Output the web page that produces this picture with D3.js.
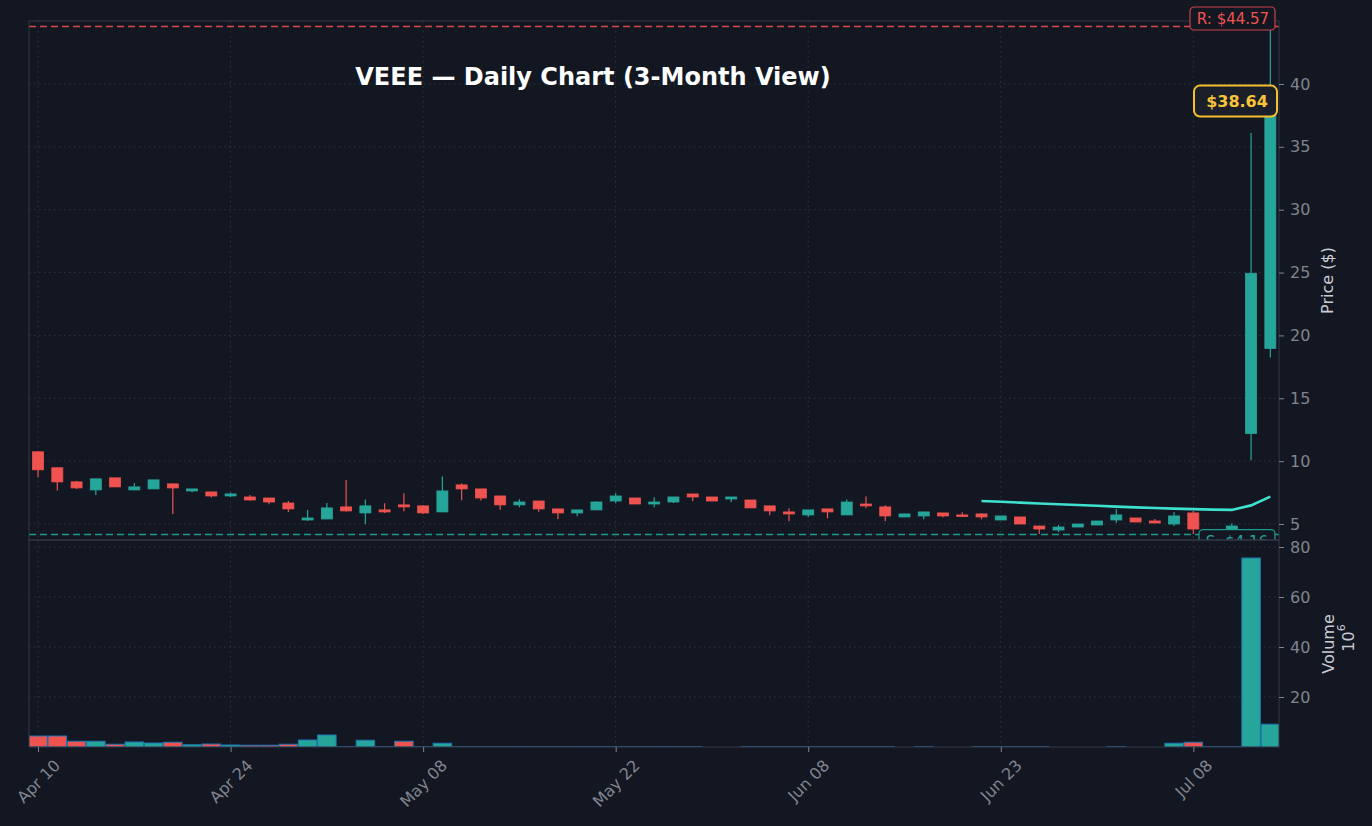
<!DOCTYPE html>
<html>
<head>
<meta charset="utf-8">
<script src="https://cdn.jsdelivr.net/npm/d3@7"></script>
<style>
  html, body { margin: 0; padding: 0; background: #131722; }
  svg { display: block; font-family: "DejaVu Sans", sans-serif; }
</style>
</head>
<body>
<div id="chart"></div>
<script>
// ---- data ----
const dates = ["Apr 10","Apr 11","Apr 14","Apr 15","Apr 16","Apr 17","Apr 18","Apr 21","Apr 22","Apr 23",
  "Apr 24","Apr 25","Apr 28","Apr 29","Apr 30","May 01","May 02","May 05","May 06","May 07",
  "May 08","May 09","May 12","May 13","May 14","May 15","May 16","May 19","May 20","May 21",
  "May 22","May 23","May 27","May 28","May 29","May 30","Jun 02","Jun 03","Jun 04","Jun 05",
  "Jun 08","Jun 09","Jun 10","Jun 11","Jun 12","Jun 13","Jun 16","Jun 17","Jun 18","Jun 20",
  "Jun 23","Jun 24","Jun 25","Jun 26","Jun 27","Jun 30","Jul 01","Jul 02","Jul 03","Jul 07",
  "Jul 08","Jul 09","Jul 10","Jul 11","Jul 14"];
const open  = [10.74,9.47,8.35,7.71,8.67,7.71,7.79,8.19,7.63,7.55, 7.23,7.15,7.07,6.67,5.32,5.40,6.36,5.88,6.12,6.52,
  6.44,5.96,8.11,7.79,7.23,6.52,6.83,6.20,5.88,6.12, 6.83,7.07,6.59,6.75,7.39,7.15,6.99,6.91,6.44,5.96,
  5.72,6.20,5.72,6.59,6.36,5.56,5.64,5.88,5.72,5.80, 5.32,5.56,4.84,4.52,4.76,4.92,5.32,5.48,5.24,5.00,
  5.88,4.30,4.52,12.20,18.96];
const high  = [10.80,9.50,8.43,8.62,8.67,8.27,8.51,8.22,7.79,7.55, 7.50,7.31,7.07,6.83,6.12,6.67,8.49,6.94,6.65,7.45,
  6.50,8.77,8.24,7.79,7.23,6.97,6.83,6.20,6.12,6.80, 7.47,7.07,7.13,7.15,7.39,7.15,7.15,6.91,6.44,6.25,
  6.12,6.20,6.94,7.18,6.49,5.80,5.96,5.88,5.93,5.85, 5.64,5.56,4.84,4.92,5.00,5.24,6.20,5.48,5.40,5.96,
  6.04,4.60,5.05,36.10,44.57];
const low   = [8.72,7.66,7.79,7.31,7.95,7.71,7.79,5.80,7.53,7.10, 7.15,6.86,6.57,5.96,5.24,5.40,6.00,4.98,5.88,6.01,
  5.80,5.96,6.89,6.86,6.14,6.33,5.98,5.37,5.61,6.12, 6.65,6.59,6.33,6.67,6.81,6.83,6.73,6.28,5.69,5.21,
  5.56,5.45,5.72,6.25,5.21,5.56,5.37,5.53,5.58,5.37, 5.32,5.00,4.20,4.36,4.76,4.92,5.08,5.16,5.08,4.84,
  4.20,4.16,4.40,10.08,18.24];
const close = [9.31,8.35,7.87,8.59,7.95,7.95,8.51,7.87,7.79,7.23, 7.39,6.91,6.75,6.20,5.48,6.28,6.04,6.44,5.96,6.36,
  5.88,7.63,7.79,7.07,6.52,6.75,6.20,5.88,6.12,6.75, 7.23,6.59,6.75,7.15,7.15,6.83,7.15,6.28,6.04,5.80,
  6.12,5.96,6.75,6.44,5.64,5.80,5.96,5.64,5.64,5.56, 5.64,5.00,4.60,4.76,5.00,5.24,5.72,5.16,5.08,5.64,
  4.60,4.50,4.84,24.94,38.64];
// volume in millions
const volume = [4.4,4.4,2.3,2.3,1.1,2.0,1.6,1.9,0.9,1.2, 0.8,0.7,0.7,1.1,2.8,4.8,0.1,2.7,0.1,2.3,
  0.1,1.5,0.1,0.1,0.1,0.1,0.1,0.1,0.1,0.1, 0.1,0.1,0.1,0.1,0.1,0,0,0.1,0.1,0.1,
  0.1,0.1,0.1,0.1,0.1,0,0.1,0,0,0.1, 0.1,0.1,0.1,0,0,0,0.1,0,0,1.5,
  1.9,0.1,0.1,75.6,9.1];
// 50-day moving average (starts at index 49)
const sma = [6.83,6.77,6.70,6.63,6.57,6.51,6.45,6.38,6.32,6.27,6.22,6.18,6.14,6.12,6.48,7.18];
const smaStart = 49;

const resistance = 44.57;
const support = 4.16;
const lastPrice = 38.64;
const priceTicks = [5,10,15,20,25,30,35,40];
const volumeTicks = [20,40,60,80];
const dateTickIdx = [0,10,20,30,40,50,60];

// ---- layout ----
const W = 1372, H = 826;
const left = 29, right = 1279;
const priceTop = 21, priceBottom = 540, volBottom = 747;
const upColor = "#26a69a", downColor = "#ef5350";
const gridColor = "#2f3441", frameColor = "#343946", tickColor = "#80848e";

const svg = d3.select("#chart").append("svg")
  .attr("width", W).attr("height", H);

svg.append("rect").attr("width", W).attr("height", H).attr("fill", "#131722");

var x = d3.scaleLinear().domain([-0.47, 64.45]).range([left, right]);
var yPrice = d3.scaleLinear().domain([3.727, 45.01]).range([priceBottom, priceTop]);
var yVol = d3.scaleLinear().domain([0, 82.8]).range([volBottom, priceBottom]);
const step = x(1) - x(0);

const defs = svg.append("defs");
defs.append("clipPath").attr("id", "clipPrice").append("rect")
  .attr("x", left).attr("y", priceTop).attr("width", right - left).attr("height", priceBottom - priceTop);
defs.append("clipPath").attr("id", "clipVol").append("rect")
  .attr("x", left).attr("y", priceBottom).attr("width", right - left).attr("height", volBottom - priceBottom);

// grids
const grid = svg.append("g").attr("class", "grid");
grid.selectAll(".hp").data(priceTicks).enter().append("line")
  .attr("x1", left).attr("x2", right)
  .attr("y1", d => yPrice(d)).attr("y2", d => yPrice(d));
grid.selectAll(".hv").data(volumeTicks).enter().append("line")
  .attr("x1", left).attr("x2", right)
  .attr("y1", d => yVol(d)).attr("y2", d => yVol(d));
grid.selectAll(".vx").data(dateTickIdx).enter().append("line")
  .attr("x1", d => x(d)).attr("x2", d => x(d))
  .attr("y1", priceTop).attr("y2", volBottom);
grid.selectAll("line")
  .attr("stroke", gridColor).attr("stroke-width", 1).attr("stroke-dasharray", "1.5,3.5");

// ---- price panel ----
const pricePanel = svg.append("g").attr("clip-path", "url(#clipPrice)");

const candles = d3.range(dates.length).map(i => ({
  i: i, o: open[i], h: high[i], l: low[i], c: close[i]
}));

pricePanel.selectAll(".wick").data(candles).enter().append("line")
  .attr("class", "wick")
  .attr("x1", d => x(d.i)).attr("x2", d => x(d.i))
  .attr("y1", d => yPrice(d.h)).attr("y2", d => yPrice(d.l))
  .attr("stroke", d => d.c >= d.o ? upColor : downColor)
  .attr("stroke-width", 1.2);

const bodyW = 11;
pricePanel.selectAll(".body").data(candles).enter().append("rect")
  .attr("class", "body")
  .attr("x", d => x(d.i) - bodyW / 2)
  .attr("y", d => yPrice(Math.max(d.o, d.c)))
  .attr("width", bodyW)
  .attr("height", d => Math.max(1.5, Math.abs(yPrice(d.o) - yPrice(d.c))))
  .attr("fill", d => d.c >= d.o ? upColor : downColor)
  .attr("stroke", d => d.c >= d.o ? upColor : downColor)
  .attr("stroke-width", 0.8);

// moving average
var smaLine = d3.line()
  .x((d, k) => x(smaStart + k))
  .y(d => yPrice(d))
  .curve(d3.curveLinear);
pricePanel.append("path")
  .datum(sma)
  .attr("d", smaLine)
  .attr("fill", "none")
  .attr("stroke", "#3ee0cf")
  .attr("stroke-width", 2.6);

// support / resistance
pricePanel.append("line")
  .attr("x1", left).attr("x2", right)
  .attr("y1", yPrice(resistance)).attr("y2", yPrice(resistance))
  .attr("stroke", "#d9474a").attr("stroke-width", 1.6).attr("stroke-dasharray", "7,4");
pricePanel.append("line")
  .attr("x1", left).attr("x2", right)
  .attr("y1", yPrice(support)).attr("y2", yPrice(support))
  .attr("stroke", "#1f9a8e").attr("stroke-width", 1.6).attr("stroke-dasharray", "7,4");

// support label (cut by the volume panel)
const sY = yPrice(support);
pricePanel.append("rect")
  .attr("x", 1199).attr("y", sY - 5).attr("width", 76).attr("height", 24).attr("rx", 4)
  .attr("fill", "#131722").attr("stroke", "#1f9a8e").attr("stroke-width", 1.2);
pricePanel.append("text")
  .attr("x", 1237).attr("y", sY + 12)
  .attr("text-anchor", "middle")
  .attr("fill", "#26a69a").attr("font-size", 15)
  .text("S: $" + support.toFixed(2));

// ---- volume panel ----
const volPanel = svg.append("g").attr("clip-path", "url(#clipVol)");
const volW = step * 0.96;
volPanel.selectAll(".vbar").data(candles.filter(d => volume[d.i] > 0)).enter().append("rect")
  .attr("class", "vbar")
  .attr("x", d => x(d.i) - volW / 2)
  .attr("y", d => yVol(volume[d.i]))
  .attr("width", volW)
  .attr("height", d => Math.max(0.3, yVol(0) - yVol(volume[d.i])))
  .attr("fill", d => d.c >= d.o ? upColor : downColor)
  .attr("stroke", "#1f77b4")
  .attr("stroke-width", 1);

// frames
svg.append("rect")
  .attr("x", left).attr("y", priceTop).attr("width", right - left).attr("height", priceBottom - priceTop)
  .attr("fill", "none").attr("stroke", frameColor).attr("stroke-width", 1);
svg.append("rect")
  .attr("x", left).attr("y", priceBottom).attr("width", right - left).attr("height", volBottom - priceBottom)
  .attr("fill", "none").attr("stroke", frameColor).attr("stroke-width", 1);

// ---- axes ----
function styleAxis(g) {
  g.select(".domain").remove();
  g.selectAll(".tick line").attr("stroke", tickColor);
  g.selectAll(".tick text").attr("fill", tickColor).attr("font-size", 16)
    .attr("font-family", "DejaVu Sans, sans-serif");
}

svg.append("g")
  .attr("transform", "translate(" + right + ",0)")
  .call(d3.axisRight(yPrice).tickValues(priceTicks).tickSize(5).tickPadding(6))
  .call(styleAxis);

svg.append("g")
  .attr("transform", "translate(" + right + ",0)")
  .call(d3.axisRight(yVol).tickValues(volumeTicks).tickSize(5).tickPadding(6))
  .call(styleAxis);

var xAxis = svg.append("g")
  .attr("transform", "translate(0," + volBottom + ")")
  .call(d3.axisBottom(x).tickValues(dateTickIdx).tickFormat(i => dates[i]).tickSize(5))
  .call(styleAxis);
xAxis.selectAll(".tick text").each(function() {
  const t = d3.select(this);
  const w = this.getComputedTextLength();
  const boxH = (w + 16) * Math.SQRT1_2;
  t.attr("y", null).attr("dy", null)
    .attr("text-anchor", "middle")
    .attr("dominant-baseline", "central")
    .attr("transform", "translate(0," + (10 + boxH / 2) + ") rotate(-45)");
});

// axis titles
svg.append("text")
  .attr("transform", "translate(1327," + ((priceTop + priceBottom) / 2) + ") rotate(-90)")
  .attr("text-anchor", "middle").attr("dominant-baseline", "central")
  .attr("fill", "#c9ccd3").attr("font-size", 16)
  .text("Price ($)");
svg.append("text")
  .attr("transform", "translate(1328,644) rotate(-90)")
  .attr("text-anchor", "middle").attr("dominant-baseline", "central")
  .attr("fill", "#c9ccd3").attr("font-size", 16)
  .text("Volume");
var exp = svg.append("text")
  .attr("transform", "translate(1348,638) rotate(-90)")
  .attr("text-anchor", "middle").attr("dominant-baseline", "central")
  .attr("fill", "#c9ccd3").attr("font-size", 16);
exp.append("tspan").text("10");
exp.append("tspan").attr("dy", -7).attr("font-size", 11).text("6");

// ---- labels on top ----
svg.append("text")
  .attr("x", 593).attr("y", 85)
  .attr("text-anchor", "middle")
  .attr("fill", "#ffffff").attr("font-weight", "bold").attr("font-size", 24)
  .text("VEEE \u2014 Daily Chart (3-Month View)");

// resistance label
svg.append("rect")
  .attr("x", 1190).attr("y", 7).attr("width", 85).attr("height", 23).attr("rx", 4)
  .attr("fill", "#131722").attr("stroke", "#c9444a").attr("stroke-width", 1.2);
svg.append("text")
  .attr("x", 1233).attr("y", 24)
  .attr("text-anchor", "middle")
  .attr("fill", "#ef5350").attr("font-size", 15)
  .text("R: $" + resistance.toFixed(2));

// last price label
const lpY = yPrice(lastPrice);
svg.append("rect")
  .attr("x", 1194).attr("y", lpY - 15.5).attr("width", 83).attr("height", 31).attr("rx", 6)
  .attr("fill", "#1b1f2a").attr("stroke", "#f5c030").attr("stroke-width", 2);
svg.append("text")
  .attr("x", 1237).attr("y", lpY + 6)
  .attr("text-anchor", "middle")
  .attr("fill", "#f7c43a").attr("font-weight", "bold").attr("font-size", 16)
  .text("$" + lastPrice.toFixed(2));
</script>
</body>
</html>
